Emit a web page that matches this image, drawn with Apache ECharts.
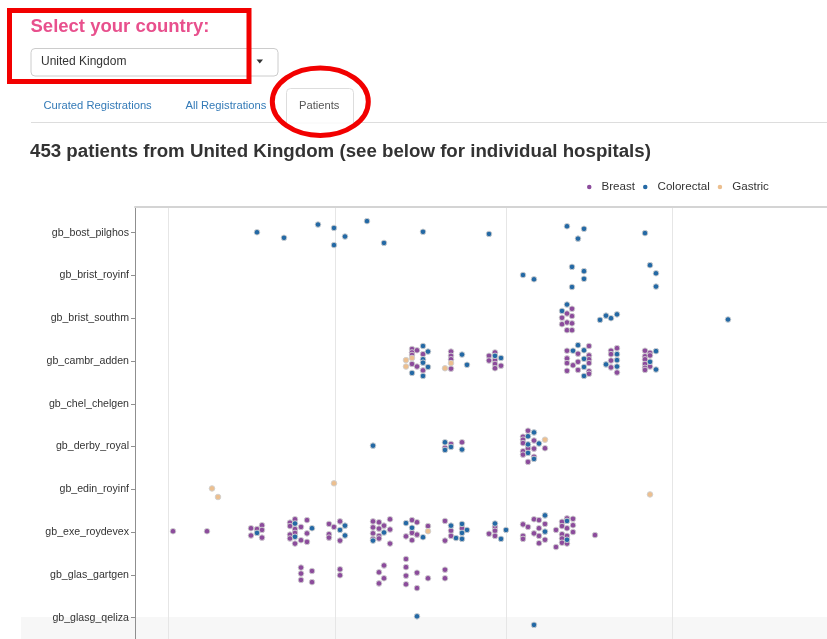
<!DOCTYPE html>
<html>
<head>
<meta charset="utf-8">
<title>Patients</title>
<script src="https://cdn.jsdelivr.net/npm/echarts@6/dist/echarts.min.js"></script>
<style>
  html, body { margin: 0; padding: 0; background: #fff; }
  #main { width: 827px; height: 639px; }
</style>
</head>
<body>
<div id="main"></div>
<script>
// 医院（y轴）
var hospitals = ['gb_bost_pilghos', 'gb_brist_royinf', 'gb_brist_southm', 'gb_cambr_adden', 'gb_chel_chelgen',
  'gb_derby_royal', 'gb_edin_royinf', 'gb_exe_roydevex', 'gb_glas_gartgen', 'gb_glasg_qeliza'];
var rowTicks = [0, 1, 2, 3, 4, 5, 6, 7, 8, 9];
// x轴网格线位置（无刻度文字）
var gridTicks = [33, 200, 371.5, 537];

// [时间, 医院行 + 蜂群偏移]
var breast = [
  [437, 1.78], [432, 1.89], [427, 1.99], [437, 1.95], [432, 2.10], [427, 2.14], [437, 2.12], [432, 2.28], [437, 2.28],
  [277, 2.72], [277, 2.80], [277, 2.86], [282, 2.75], [277, 3.07], [282, 3.13], [288, 2.84], [288, 3.22],
  [316, 2.78], [316, 2.88], [316, 2.96], [316, 3.18],
  [354, 2.88], [354, 2.99], [360, 2.80], [360, 2.98], [360, 3.07], [366, 3.11], [360, 3.17],
  [432, 2.76], [454, 2.65], [443, 2.83], [454, 2.87], [432, 2.94], [454, 2.96], [432, 3.05], [443, 3.02],
  [438, 3.10], [454, 3.05], [432, 3.23], [443, 3.21], [454, 3.24], [454, 3.30],
  [476, 2.76], [476, 2.84], [482, 2.70], [476, 2.99], [476, 3.15], [482, 3.27],
  [510, 2.76], [515, 2.81], [510, 2.89], [515, 2.87], [510, 2.96], [510, 3.07], [515, 3.13], [510, 3.16], [510, 3.21],
  [316, 4.94], [310, 5.03], [327, 4.90],
  [393, 4.63], [388, 4.77], [388, 4.84], [399, 4.86], [388, 4.92], [393, 5.04], [399, 5.05], [410, 5.04],
  [388, 5.11], [388, 5.19], [399, 5.24], [393, 5.36],
  [38, 6.98], [72, 6.98],
  [116, 6.91], [116, 7.08], [122, 6.93], [127, 6.84], [127, 6.95], [127, 7.13],
  [155, 6.78], [155, 6.86], [160, 6.70], [160, 6.93], [155, 7.06], [155, 7.15], [160, 7.02], [160, 7.27],
  [166, 6.88], [166, 7.19], [172, 6.72], [172, 7.03], [172, 7.23],
  [194, 6.81], [194, 7.05], [194, 7.13], [199, 6.88], [205, 6.75], [205, 7.20],
  [238, 6.75], [238, 6.89], [238, 7.03], [238, 7.16], [244, 6.77], [244, 6.92], [244, 7.09], [244, 7.15],
  [249, 6.85], [255, 6.70], [255, 6.94], [255, 7.27],
  [277, 6.72], [282, 6.77], [293, 6.86], [277, 7.02], [282, 7.06], [271, 7.10], [277, 7.19],
  [310, 6.74], [327, 6.91], [316, 6.97], [316, 7.09], [310, 7.20],
  [354, 7.04], [360, 6.88], [360, 6.97], [360, 7.09],
  [388, 6.82], [393, 6.88], [388, 7.09], [388, 7.16], [399, 6.70], [404, 6.72], [410, 6.81], [404, 6.91],
  [399, 7.03], [404, 7.09], [410, 7.18], [404, 7.26],
  [421, 6.95], [421, 7.35], [427, 6.76], [427, 6.86], [432, 6.68], [438, 6.69], [438, 6.84], [432, 6.91],
  [427, 7.05], [427, 7.15], [432, 7.09], [438, 7.00], [427, 7.25], [432, 7.27], [460, 7.07],
  [166, 7.83], [166, 7.97], [166, 8.12], [177, 7.91], [177, 8.17], [205, 7.87], [205, 8.01],
  [244, 7.94], [249, 7.78], [244, 8.20], [249, 8.08],
  [271, 7.63], [271, 7.82], [271, 8.02], [271, 8.22], [282, 7.95], [282, 8.31], [293, 8.08], [310, 7.88], [310, 8.08]
];

var colorectal = [
  [122, -0.01], [149, 0.12], [183, -0.19], [199, -0.11], [199, 0.29], [210, 0.09], [232, -0.27], [249, 0.24],
  [288, -0.02], [354, 0.03], [432, -0.15], [449, -0.09], [443, 0.14], [510, 0.01],
  [388, 0.99], [399, 1.09], [437, 0.80], [449, 0.90], [449, 1.08], [437, 1.27], [515, 0.76], [521, 0.95], [521, 1.26],
  [432, 1.68], [427, 1.83], [465, 2.04], [471, 1.94], [476, 2.00], [482, 1.91], [593, 2.03],
  [277, 3.28], [288, 2.65], [293, 2.78], [288, 2.96], [288, 3.04], [293, 3.14], [288, 3.35],
  [327, 2.85], [332, 3.09], [360, 2.88], [366, 2.93],
  [438, 2.76], [443, 2.63], [449, 2.75], [449, 2.95], [449, 3.14], [449, 3.35],
  [471, 3.08], [482, 2.84], [482, 2.98], [482, 3.13],
  [521, 2.77], [515, 3.02], [521, 3.20],
  [238, 4.98], [310, 4.90], [316, 5.01], [310, 5.08], [327, 5.07],
  [399, 4.67], [393, 4.76], [393, 4.95], [404, 4.93], [393, 5.15], [399, 5.29],
  [122, 7.02], [160, 6.80], [160, 7.11], [177, 6.91], [205, 6.95], [210, 6.85], [210, 7.08],
  [238, 7.20], [249, 7.01], [271, 6.79], [277, 6.90], [288, 7.12],
  [316, 6.85], [327, 6.81], [332, 6.95], [327, 7.02], [321, 7.14], [327, 7.16],
  [360, 6.80], [366, 7.16], [371, 6.95], [410, 6.61], [410, 6.99], [432, 6.74], [432, 7.18],
  [282, 8.97], [399, 9.17]
];

var gastric = [
  [271, 2.98], [271, 3.13], [277, 2.93], [316, 3.05], [310, 3.17],
  [410, 4.84],
  [77, 5.98], [83, 6.18], [199, 5.86], [515, 6.12],
  [293, 6.98]
];

var colors = { Breast: '#8c4c9c', Colorectal: '#2469a5', Gastric: '#ecbf8f' };
var fontFamily = '"Liberation Sans", Arial, Helvetica, sans-serif';

var myChart = echarts.init(document.getElementById('main'));

function swarm(name, data) {
  return {
    name: name,
    type: 'scatter',
    data: data,
    symbolSize: 5.6,
    itemStyle: { color: colors[name], borderColor: '#d0d0d0', borderWidth: 0.9, opacity: 1 },
    emphasis: { disabled: true }
  };
}

var option = {
  animation: false,
  textStyle: { fontFamily: fontFamily },
  title: {
    text: '453 patients from United Kingdom (see below for individual hospitals)',
    left: 30,
    top: 142,
    padding: 0,
    textStyle: { fontSize: 18.7, fontWeight: 'bold', color: '#333', fontFamily: fontFamily }
  },
  legend: {
    data: ['Breast', 'Colorectal', 'Gastric'],
    left: 587,
    top: 181,
    icon: 'circle',
    itemWidth: 4.5,
    itemHeight: 4.5,
    itemGap: 8,
    padding: 0,
    itemStyle: { borderWidth: 0 },
    textStyle: { fontSize: 11.6, color: '#333', padding: [0, 0, 0, 5] }
  },
  grid: { left: 135, top: 207, right: 0, bottom: 0 },
  xAxis: {
    type: 'value',
    position: 'top',
    min: 0,
    max: 692,
    axisLine: { show: true, onZero: false, lineStyle: { color: '#d4d4d4', width: 2 } },
    axisTick: { show: false, customValues: gridTicks },
    axisLabel: { show: false },
    splitLine: { show: true, lineStyle: { color: '#e6e6e6', width: 1 } }
  },
  yAxis: {
    type: 'value',
    inverse: true,
    min: -0.6,
    max: 9.5,
    axisLine: { show: true, onZero: false, lineStyle: { color: '#8f8f8f', width: 1 } },
    axisTick: { show: true, customValues: rowTicks, length: 4, lineStyle: { color: '#8f8f8f' } },
    axisLabel: {
      customValues: rowTicks,
      fontSize: 10.6,
      color: '#333',
      margin: 6,
      formatter: function (v) { return hospitals[Math.round(v)]; }
    },
    splitLine: { show: false }
  },
  graphic: [
    // 底部灰条
    { type: 'rect', z: -10, shape: { x: 21, y: 617, width: 806, height: 22 }, style: { fill: '#f7f7f7' } },
    // 下拉框
    { type: 'rect', shape: { x: 31, y: 48.5, width: 247, height: 27.5, r: 4 }, style: { fill: '#fff', stroke: '#ccc', lineWidth: 1 } },
    { type: 'text', x: 41, y: 62, style: { text: 'United Kingdom', fill: '#333', font: '12px ' + fontFamily, verticalAlign: 'middle' } },
    { type: 'polygon', shape: { points: [[256.5, 59.5], [263, 59.5], [259.75, 63.5]] }, style: { fill: '#333' } },
    { type: 'text', x: 30.5, y: 26.7, style: { text: 'Select your country:', fill: '#e8508d', font: 'bold 18.5px ' + fontFamily, verticalAlign: 'middle' } },
    // 标签页
    { type: 'line', shape: { x1: 31, y1: 122.5, x2: 827, y2: 122.5 }, style: { stroke: '#ddd', lineWidth: 1 } },
    { type: 'rect', shape: { x: 286.5, y: 88.5, width: 67, height: 34.5, r: [4, 4, 0, 0] }, style: { fill: '#fff', stroke: '#ddd', lineWidth: 1 } },
    { type: 'line', shape: { x1: 287, y1: 123, x2: 353, y2: 123 }, style: { stroke: '#fff', lineWidth: 1.5 } },
    { type: 'text', x: 43.5, y: 105.5, style: { text: 'Curated Registrations', fill: '#337ab7', font: '11.2px ' + fontFamily, verticalAlign: 'middle' } },
    { type: 'text', x: 185.5, y: 105.5, style: { text: 'All Registrations', fill: '#337ab7', font: '11.2px ' + fontFamily, verticalAlign: 'middle' } },
    { type: 'text', x: 299, y: 105.5, style: { text: 'Patients', fill: '#555', font: '11.2px ' + fontFamily, verticalAlign: 'middle' } },
    // 红色标注
    { type: 'rect', shape: { x: 9.5, y: 10.5, width: 239.5, height: 71 }, style: { fill: 'none', stroke: '#f20000', lineWidth: 5 } },
    { type: 'ellipse', shape: { cx: 320.3, cy: 101.7, rx: 48, ry: 33.7 }, style: { fill: 'none', stroke: '#f20000', lineWidth: 5 } }
  ],
  series: [
    swarm('Breast', breast),
    swarm('Colorectal', colorectal),
    swarm('Gastric', gastric)
  ]
};

myChart.setOption(option);
</script>
</body>
</html>
